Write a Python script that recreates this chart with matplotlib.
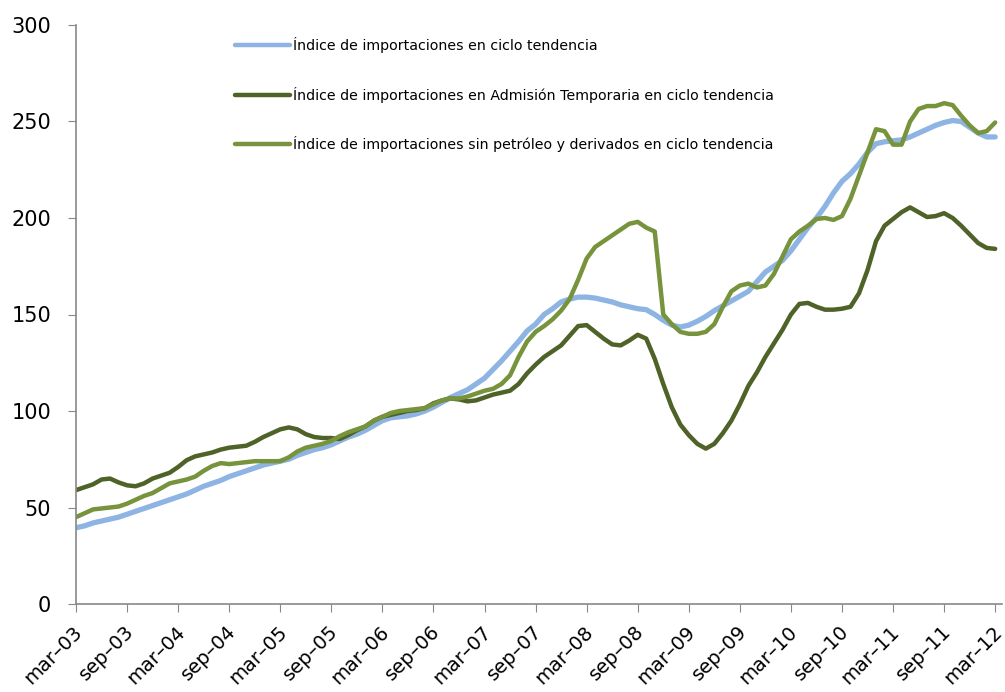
import numpy as np
import matplotlib
matplotlib.use("Agg")
import matplotlib.pyplot as plt
from matplotlib.transforms import ScaledTranslation

# monthly series, mar-03 .. mar-12
total = [39.5, 40.5, 42, 43, 44, 45, 46.5, 48, 49.5, 51, 52.5, 54,
         55.5, 57, 59, 61, 62.5, 64, 66, 67.5, 69, 70.5, 72, 73,
         74, 75, 77, 78.5, 80, 81, 82.5, 84.5, 86.5, 88, 90, 92.5,
         95, 96.5, 97, 97.5, 98.5, 100, 102, 104.5, 107, 109, 111, 114,
         117, 121.5, 126, 131, 136, 141.5, 145, 150, 153, 156.5, 158, 159,
         159, 158.5, 157.5, 156.5, 155, 154, 153, 152.5, 150, 147, 144.5, 143.5,
         144.5, 146.5, 149, 152, 154.5, 157, 159.5, 162, 167, 172, 175, 178,
         183, 189, 195, 200, 206, 213, 219, 223, 228, 234, 238.5, 239.5,
         240, 240.5, 242, 244, 246, 248, 249.5, 250.5, 250, 247, 244, 242,
         242]

temporaria = [59, 60.5, 62, 64.5, 65, 63, 61.5, 61, 62.5, 65, 66.5, 68,
              71, 74.5, 76.5, 77.5, 78.5, 80, 81, 81.5, 82, 84, 86.5, 88.5,
              90.5, 91.5, 90.5, 88, 86.5, 86, 86, 85.5, 87.5, 90, 92, 95,
              97, 98, 99, 100, 100.5, 101.5, 104, 105.5, 106.5, 106, 105, 105.5,
              107, 108.5, 109.5, 110.5, 114, 119.5, 124, 128, 131, 134, 139, 144,
              144.5, 141, 137.5, 134.5, 134, 136.5, 139.5, 137.5, 127, 114, 102, 93,
              87.5, 83, 80.5, 83, 88.5, 95, 103.5, 113, 120, 128, 135, 142,
              150, 155.5, 156, 154, 152.5, 152.5, 153, 154, 161, 173, 188, 196,
              199.5, 203, 205.5, 203, 200.5, 201, 202.5, 200, 196, 191.5, 187, 184.5,
              184]

sin_petroleo = [45, 47, 49, 49.5, 50, 50.5, 52, 54, 56, 57.5, 60, 62.5,
                63.5, 64.5, 66, 69, 71.5, 73, 72.5, 73, 73.5, 74, 74, 74,
                74, 76, 79, 81, 82, 83, 84.5, 87, 89, 90.5, 92, 95,
                97, 99, 100, 100.5, 101, 101.5, 103.5, 105.5, 106.5, 106.5, 107.5, 109,
                110.5, 111.5, 114, 118.5, 128, 136, 141, 144, 147.5, 152, 158, 168,
                179, 185, 188, 191, 194, 197, 198, 195, 193, 150, 145, 141,
                140, 140, 141, 145, 154, 162, 165, 166, 164, 165, 171, 180,
                189, 193, 196, 199.5, 200, 199, 201, 210, 222, 234, 246, 245,
                238, 238, 250, 256.5, 258, 258, 259.5, 258.5, 253, 248, 244, 245,
                249.5]

labels = ["Índice de importaciones en ciclo tendencia",
          "Índice de importaciones en Admisión Temporaria en ciclo tendencia",
          "Índice de importaciones sin petróleo y derivados en ciclo tendencia"]
colors = ["#8DB4E2", "#4F6228", "#77933C"]

meses = ["mar", "sep"]
tick_labels = [f"{meses[k % 2]}–{3 + k // 2:02d}" for k in range(19)]

fig = plt.figure(figsize=(10.05, 6.92), dpi=100)
ax = fig.add_axes([76 / 1005, 1 - 604 / 692, 926 / 1005, 579 / 692])

x = np.arange(len(total))
ax.plot(x, total, color=colors[0], lw=3.8, label=labels[0], solid_capstyle="round")
ax.plot(x, temporaria, color=colors[1], lw=3.2, label=labels[1], solid_capstyle="round")
ax.plot(x, sin_petroleo, color=colors[2], lw=3.2, label=labels[2], solid_capstyle="round")

ax.set_xlim(0, 108.8)
ax.set_ylim(0, 300)
ax.set_yticks(range(0, 301, 50))
ax.set_xticks(range(0, 109, 6))
ax.set_xticklabels(tick_labels, rotation=45, ha="right", rotation_mode="anchor",
                   fontsize=14)
ax.tick_params(axis="y", labelsize=15, length=6, color="#888888", pad=12)
ax.tick_params(axis="x", length=6, color="#888888", pad=7)
shift = ScaledTranslation(-3 / 100, 0, fig.dpi_scale_trans)
for t in ax.get_xticklabels():
    t.set_transform(t.get_transform() + shift)

for s in ["top", "right"]:
    ax.spines[s].set_visible(False)
for s in ["left", "bottom"]:
    ax.spines[s].set_color("#888888")
    ax.spines[s].set_linewidth(1.2)

leg = fig.legend(loc="upper left", bbox_to_anchor=(235 / 1005, 1 - 37 / 692),
                 frameon=False, fontsize=10.2, handlelength=3.9, handletextpad=0.2,
                 labelspacing=2.38, borderpad=0, borderaxespad=0)
for h in leg.get_lines():
    h.set_linewidth(3.2)

fig.savefig("out.png", dpi=100)
